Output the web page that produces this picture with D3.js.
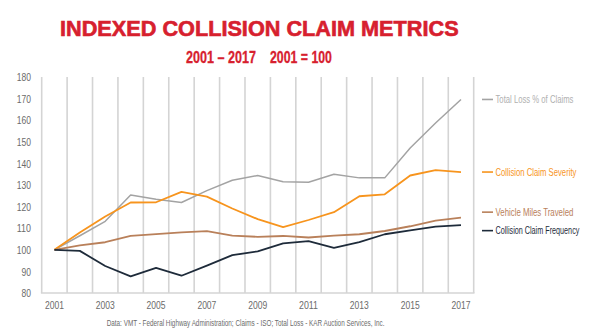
<!DOCTYPE html>
<html>
<head>
<meta charset="utf-8">
<script src="https://cdn.jsdelivr.net/npm/d3@7"></script>
<style>
  html, body { margin: 0; padding: 0; background: #fff; }
  svg { display: block; }
  text { font-family: "Liberation Sans", Arial, sans-serif; }
</style>
</head>
<body>
<svg id="chart" width="600" height="336"></svg>
<script>
const years = ["2001","2002","2003","2004","2005","2006","2007","2008","2009","2010","2011","2012","2013","2014","2015","2016","2017"];
const tickYears = ["2001","2003","2005","2007","2009","2011","2013","2015","2017"];
const yTicks = [80, 90, 100, 110, 120, 130, 140, 150, 160, 170, 180];

const totalLoss = [100, 106.5, 113.2, 125.4, 123.4, 121.9, 127.4, 132.2, 134.4, 131.5, 131.3, 135, 133.3, 133.3, 147.1, 158.7, 169.6];
const severity  = [100, 108, 115.4, 121.9, 122, 126.8, 124.6, 119.1, 114.2, 110.5, 113.8, 117.4, 124.8, 125.7, 134.4, 136.9, 136];
const vmt       = [100, 102, 103.5, 106.4, 107.3, 108.1, 108.6, 106.6, 106, 106.4, 105.7, 106.6, 107.2, 108.7, 110.9, 113.5, 114.9];
const frequency = [100, 99.5, 92.5, 87.7, 91.6, 88, 92.7, 97.5, 99.3, 103, 104, 100.9, 103.6, 107.2, 109, 110.7, 111.4];

const seriesNames = ["Total Loss % of Claims", "Collision Claim Severity", "Vehicle Miles Traveled", "Collision Claim Frequency"];
const seriesValues = [totalLoss, severity, vmt, frequency];
const seriesColors = ["#a3a3a3", "#f7941d", "#b9805a", "#1e2b3a"];
const legendTextColors = ["#b0b0b0", "#f7941d", "#b9805a", "#1e2b3a"];

const title = "INDEXED COLLISION CLAIM METRICS";
const subtitleParts = ["2001 \u2013 2017", "2001 = 100"];
const footnote = "Data: VMT - Federal Highway Administration; Claims - ISO; Total Loss - KAR Auction Services, Inc.";

const svg = d3.select("#chart");
const mLeft = 41.7, mRight = 473.7, mTop = 77, mBottom = 293;

// horizontally condense a text (anchored at x,y) to a target width
function fit(sel, w) {
  sel.each(function () {
    const n = d3.select(this);
    const tx = +n.attr("x") || 0, ty = +n.attr("y") || 0;
    const target = typeof w === "function" ? w(n.datum()) : w;
    const nat = this.getComputedTextLength();
    n.attr("x", 0).attr("y", 0)
     .attr("transform", `translate(${tx},${ty}) scale(${target / nat},1)`);
  });
}

const x = d3.scaleBand().domain(years).range([mLeft, mRight]).padding(0);
const y = d3.scaleLinear().domain([80, 180]).range([mBottom, mTop]);
const xc = d => x(d) + x.bandwidth() / 2;

// title
svg.append("text").attr("x", 60).attr("y", 35.5)
  .attr("fill", "#d7202e").attr("stroke", "#d7202e").attr("stroke-width", 0.6)
  .attr("font-size", 21.5).attr("font-weight", "bold").text(title)
  .call(fit, 399);
svg.append("text").attr("x", 186).attr("y", 63)
  .attr("fill", "#d7202e").attr("stroke", "#d7202e").attr("stroke-width", 0.3)
  .attr("font-size", 16.5).attr("font-weight", "bold").text(subtitleParts[0])
  .call(fit, 70);
svg.append("text").attr("x", 270).attr("y", 63)
  .attr("fill", "#d7202e").attr("stroke", "#d7202e").attr("stroke-width", 0.3)
  .attr("font-size", 16.5).attr("font-weight", "bold").text(subtitleParts[1])
  .call(fit, 62);

// vertical gridlines at band boundaries
const bounds = years.map(d => x(d)).concat([mRight]);
svg.append("g").selectAll("line").data(bounds).join("line")
  .attr("x1", d => d).attr("x2", d => d).attr("y1", mTop).attr("y2", mBottom)
  .attr("stroke", "#d4d4d4").attr("stroke-width", 1.6);

// bottom axis line
svg.append("line").attr("x1", mLeft - 0.8).attr("x2", mRight + 0.8).attr("y1", mBottom).attr("y2", mBottom)
  .attr("stroke", "#d4d4d4").attr("stroke-width", 1.6);

// y axis labels
const yAxis = d3.axisLeft(y).tickValues(yTicks).tickSize(0).tickPadding(0);
const gy = svg.append("g").attr("transform", `translate(31,0)`).call(yAxis);
gy.select(".domain").remove();
gy.selectAll("text").attr("font-size", 11.5).attr("fill", "#6b6b6b")
  .style("font-family", '"Liberation Sans", Arial, sans-serif')
  .call(fit, d => String(d).length * 4.75);

// x axis labels
const xAxis = d3.axisBottom(x).tickValues(tickYears).tickSize(0).tickPadding(0);
const gx = svg.append("g").attr("transform", `translate(0,${mBottom + 8})`).call(xAxis);
gx.select(".domain").remove();
gx.selectAll("text").attr("font-size", 11).attr("fill", "#6b6b6b").attr("dy", "0.71em")
  .style("font-family", '"Liberation Sans", Arial, sans-serif')
  .call(fit, 19);

// lines
const line = d3.line().x((d, i) => xc(years[i])).y(d => y(d));
seriesValues.forEach((vals, k) => {
  svg.append("path").datum(vals).attr("d", line).attr("fill", "none")
    .attr("stroke", seriesColors[k]).attr("stroke-width", k === 0 ? 1.5 : 1.8)
    .attr("stroke-linejoin", "round");
});

// legend labels at line ends with collision avoidance
const gap = 18.5;
const legendWidths = [78, 81, 78, 84];
let pos = seriesValues.map((v, k) => ({ k, y: y(v[v.length - 1]) })).sort((a, b) => a.y - b.y);
for (let iter = 0; iter < 20; iter++) {
  for (let i = 1; i < pos.length; i++) {
    const d = pos[i].y - pos[i - 1].y;
    if (d < gap) {
      const shift = (gap - d) / 2;
      pos[i - 1].y -= shift; pos[i].y += shift;
    }
  }
}
const lg = svg.append("g");
pos.forEach(p => {
  lg.append("line").attr("x1", 482).attr("x2", 493).attr("y1", p.y).attr("y2", p.y)
    .attr("stroke", seriesColors[p.k]).attr("stroke-width", 1.6);
  lg.append("text").attr("x", 495.5).attr("y", p.y + 3.8)
    .attr("font-size", 10.5).attr("fill", legendTextColors[p.k]).text(seriesNames[p.k])
    .call(fit, legendWidths[p.k]);
});

// footnote
svg.append("text").attr("x", 106.7).attr("y", 325.5)
  .attr("font-size", 8.5).attr("fill", "#6b6b6b").text(footnote)
  .call(fit, 278);
</script>
</body>
</html>
